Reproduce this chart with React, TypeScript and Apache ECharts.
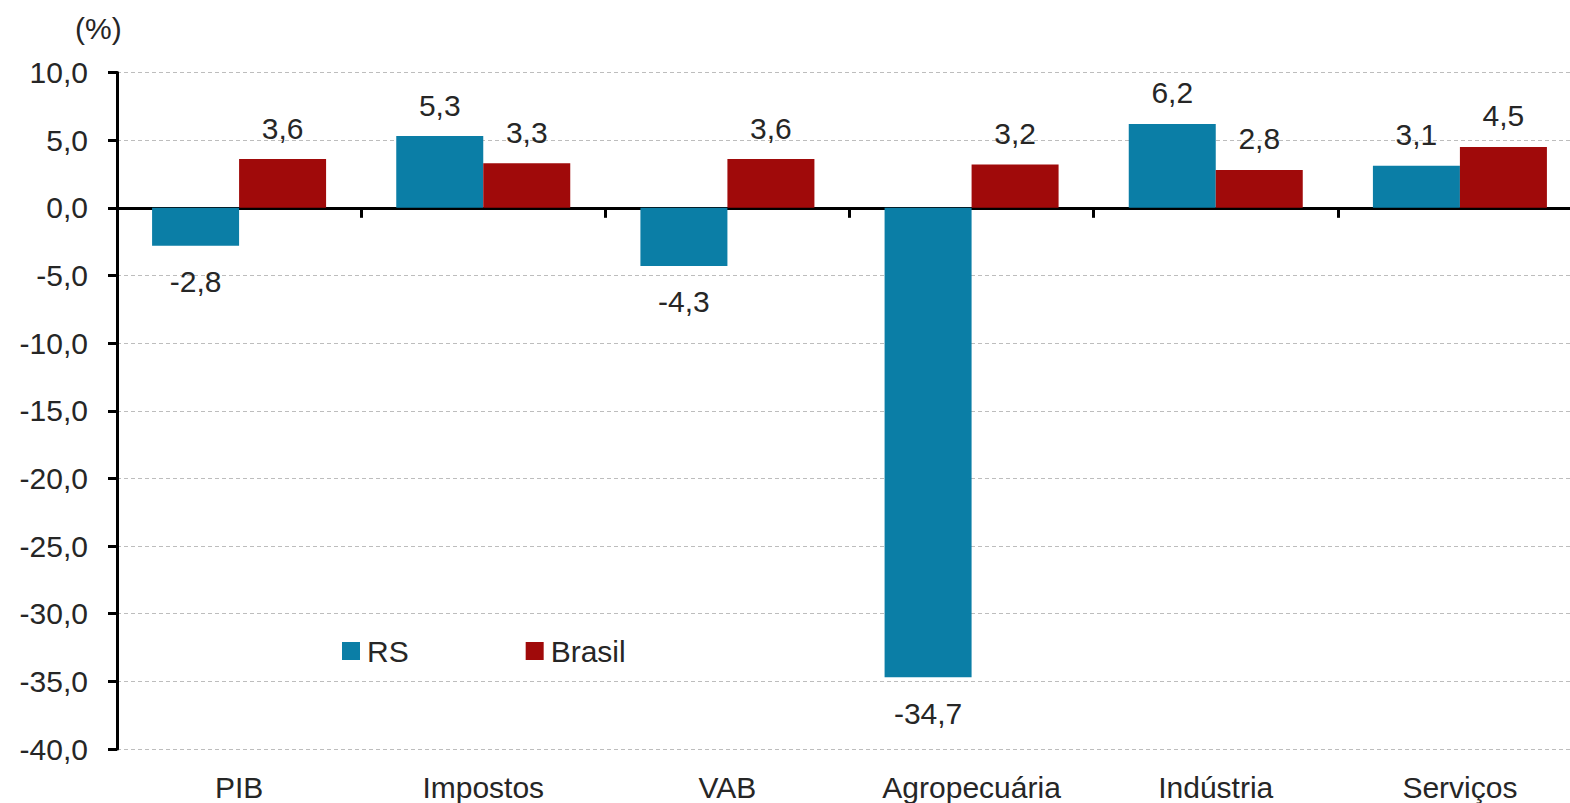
import React, { useEffect, useRef } from "react";
import * as echarts from "echarts";

const categories = ["PIB", "Impostos", "VAB", "Agropecuária", "Indústria", "Serviços"];
const rsValues = [-2.8, 5.3, -4.3, -34.7, 6.2, 3.1];
const brasilValues = [3.6, 3.3, 3.6, 3.2, 2.8, 4.5];
const seriesNames = ["RS", "Brasil"];
const yMin = -40;
const yMax = 10;
const yInterval = 5;

const FONT = "'Liberation Sans', Arial, sans-serif";
const TEXT = "#262626";
const fmt = (v: number) => v.toFixed(1).replace(".", ",");

const toData = (vals: number[]) =>
  vals.map((v) => ({
    value: v,
    label: { position: v < 0 ? "bottom" : "top", distance: v < 0 ? 21 : 16 },
  }));

export default function App() {
  const ref = useRef<HTMLDivElement>(null);
  useEffect(() => {
    if (!ref.current) return;
    const chart = echarts.init(ref.current, undefined, { renderer: "svg" });
    const labelStyle = {
      show: true,
      fontFamily: FONT,
      fontSize: 30,
      color: TEXT,
      formatter: (p: any) => fmt(p.value),
    };
    chart.setOption({
      animation: false,
      backgroundColor: "#ffffff",
      textStyle: { fontFamily: FONT },
      grid: { left: 117, right: 0, top: 72.5, bottom: 54, containLabel: false },
      graphic: [
        {
          type: "text",
          left: 75,
          top: 13,
          style: { text: "(%)", fontFamily: FONT, fontSize: 30, fill: TEXT },
        },
      ],
      legend: {
        left: 342,
        top: 636,
        padding: 0,
        itemWidth: 18,
        itemHeight: 18,
        itemGap: 117,
        icon: "rect",
        textStyle: { fontFamily: FONT, fontSize: 30, color: TEXT, padding: [0, 0, 0, 2] },
        data: seriesNames,
      },
      xAxis: [
        {
          type: "category",
          data: categories,
          axisLine: { onZero: true, lineStyle: { color: "#000", width: 3 } },
          axisTick: { show: true, length: 10, lineStyle: { color: "#000", width: 3 } },
          axisLabel: { show: false },
          splitLine: { show: false },
        },
        {
          type: "category",
          data: categories,
          position: "bottom",
          axisLine: { show: false, onZero: false },
          axisTick: { show: false },
          axisLabel: { show: true, margin: 23, fontFamily: FONT, fontSize: 30, color: TEXT },
        },
      ],
      yAxis: {
        type: "value",
        min: yMin,
        max: yMax,
        interval: yInterval,
        axisLine: { show: true, lineStyle: { color: "#000", width: 3 } },
        axisTick: { show: true, length: 9, lineStyle: { color: "#000", width: 3 } },
        axisLabel: {
          margin: 29,
          fontFamily: FONT,
          fontSize: 30,
          color: TEXT,
          formatter: (v: number) => fmt(v),
        },
        splitLine: { show: true, lineStyle: { color: "#bdbdbd", type: [4, 3], width: 1 } },
      },
      series: [
        {
          name: seriesNames[0],
          type: "bar",
          xAxisIndex: 0,
          data: toData(rsValues),
          barWidth: 87,
          barGap: "0%",
          itemStyle: { color: "#0b7ea6" },
          label: labelStyle,
        },
        {
          name: seriesNames[1],
          type: "bar",
          xAxisIndex: 0,
          data: toData(brasilValues),
          barWidth: 87,
          barGap: "0%",
          itemStyle: { color: "#a00a0a" },
          label: labelStyle,
        },
      ],
    });
    return () => chart.dispose();
  }, []);
  return (
    <div
      ref={ref}
      style={{ position: "fixed", left: 0, top: 0, width: 1582, height: 803, background: "#fff" }}
    />
  );
}
